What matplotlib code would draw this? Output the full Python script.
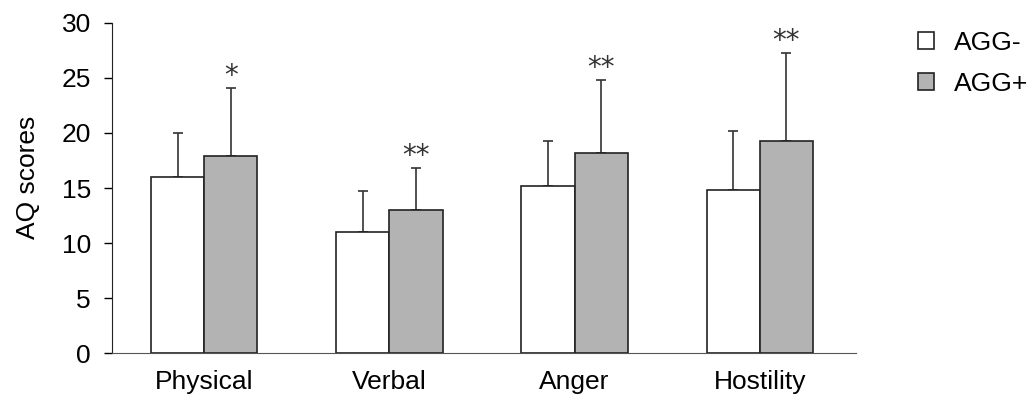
import matplotlib
matplotlib.use("Agg")
import matplotlib.pyplot as plt
import numpy as np

plt.rcParams['font.family'] = ['Liberation Sans', 'DejaVu Sans']

categories = ['Physical', 'Verbal', 'Anger', 'Hostility']
agg_minus = [16.0, 11.0, 15.2, 14.85]
agg_minus_sd = [4.0, 3.75, 4.1, 5.3]
agg_plus = [17.9, 13.0, 18.2, 19.3]
agg_plus_sd = [6.2, 3.8, 6.6, 7.95]
stars = ['*', '**', '**', '**']

fig = plt.figure(figsize=(10.28, 4.01), dpi=100)
ax = fig.add_axes([111.7 / 1028, 1 - 353.3 / 401, (856 - 111.7) / 1028, (353.3 - 22.7) / 401])

x = np.arange(len(categories))
w = 0.287
b1 = ax.bar(x - w / 2, agg_minus, w, color='white', edgecolor='#222222', linewidth=1.2,
            label='AGG-', zorder=2)
b2 = ax.bar(x + w / 2, agg_plus, w, color='#b3b3b3', edgecolor='#222222', linewidth=1.2,
            label='AGG+', zorder=2)
ax.errorbar(x - w / 2, agg_minus, yerr=[np.zeros(4), agg_minus_sd], fmt='none',
            ecolor='#333333', elinewidth=1.2, capsize=3.5, capthick=1.2, zorder=1)
ax.errorbar(x + w / 2, agg_plus, yerr=[np.zeros(4), agg_plus_sd], fmt='none',
            ecolor='#333333', elinewidth=1.2, capsize=3.5, capthick=1.2, zorder=1)

# significance marks above AGG+ bars
for xi, v, s, st in zip(x, agg_plus, agg_plus_sd, stars):
    ax.text(xi + w / 2, v + s + 0.35, st, ha='center', va='baseline', fontsize=20,
            family='DejaVu Sans', color='#333333')

ax.set_xlim(-0.5, 3.52)
ax.set_ylim(0, 30)
ax.set_yticks(range(0, 31, 5))
ax.set_xticks(x)
ax.set_xticklabels(categories)
ax.tick_params(axis='x', length=0, pad=12, labelsize=19)
ax.tick_params(axis='y', direction='out', length=6, width=1, labelsize=19, pad=9)
ax.spines['top'].set_visible(False)
ax.spines['right'].set_visible(False)
ax.spines['left'].set_color('#222222')
ax.spines['bottom'].set_color('#555555')
fig.text(28 / 1028, 1 - 177 / 401, 'AQ scores', rotation=90, ha='center', va='center',
         fontsize=19)

fig.legend(handles=[b1, b2], labels=['AGG-', 'AGG+'], loc='upper left',
           bbox_to_anchor=(918 / 1028, 1 - 31 / 401), frameon=False, fontsize=19,
           handlelength=0.6, handleheight=0.6, handletextpad=0.75, labelspacing=0.63,
           borderpad=0, borderaxespad=0)

fig.savefig('out.png', dpi=100)
